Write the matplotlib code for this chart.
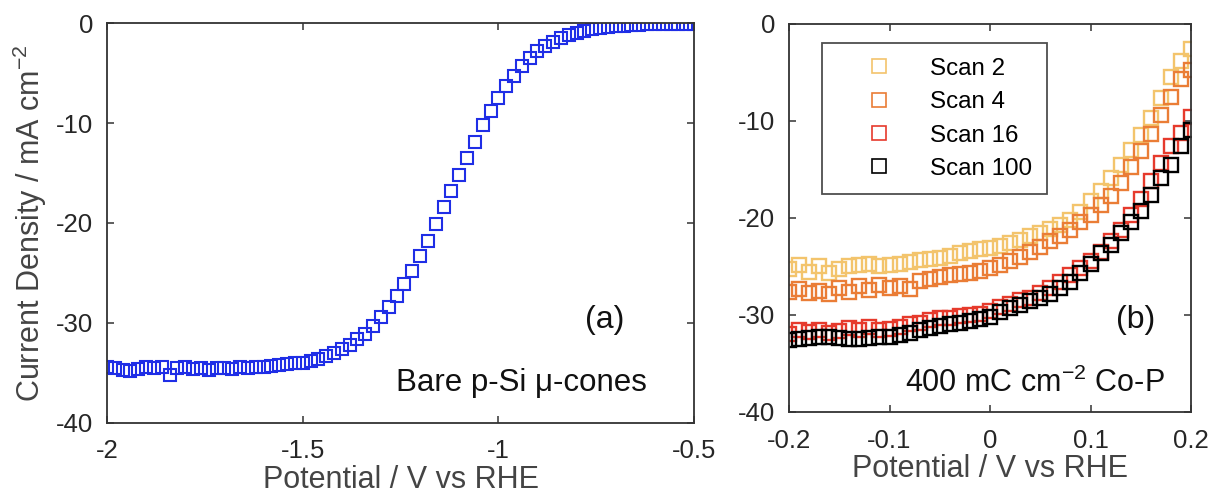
import matplotlib
matplotlib.use("Agg")
import matplotlib.pyplot as plt
from matplotlib.ticker import FormatStrFormatter

plt.rcParams['font.family'] = ['Liberation Sans', 'DejaVu Sans']
plt.rcParams['mathtext.default'] = 'regular'

# ---- panel (a): bare p-Si micro-cones ----
pot_a = [-2.00, -1.98, -1.96, -1.94, -1.92, -1.90, -1.88, -1.86, -1.84, -1.82,
         -1.80, -1.78, -1.76, -1.74, -1.72, -1.70, -1.68, -1.66, -1.64, -1.62,
         -1.60, -1.58, -1.56, -1.54, -1.52, -1.50, -1.48, -1.46, -1.44, -1.42,
         -1.40, -1.38, -1.36, -1.34, -1.32, -1.30, -1.28, -1.26, -1.24, -1.22,
         -1.20, -1.18, -1.16, -1.14, -1.12, -1.10, -1.08, -1.06, -1.04, -1.02,
         -1.00, -0.98, -0.96, -0.94, -0.92, -0.90, -0.88, -0.86, -0.84, -0.82,
         -0.80, -0.78, -0.76, -0.74, -0.72, -0.70, -0.68, -0.66, -0.64, -0.62,
         -0.60, -0.58, -0.56, -0.54, -0.52, -0.50]
cur_a = [-34.4, -34.5, -34.7, -34.8, -34.6, -34.4, -34.5, -34.4, -35.2, -34.5,
         -34.4, -34.6, -34.5, -34.7, -34.5, -34.5, -34.6, -34.4, -34.5, -34.4,
         -34.4, -34.3, -34.2, -34.1, -34.0, -34.0, -33.8, -33.6, -33.3, -33.0,
         -32.6, -32.2, -31.6, -31.1, -30.3, -29.4, -28.4, -27.3, -26.1, -24.8,
         -23.3, -21.8, -20.1, -18.4, -16.8, -15.2, -13.5, -11.9, -10.2, -8.8,
         -7.5, -6.3, -5.3, -4.3, -3.5, -2.8, -2.3, -1.9, -1.5, -1.2,
         -1.0, -0.8, -0.6, -0.5, -0.4, -0.3, -0.25, -0.2, -0.15, -0.1,
         -0.1, -0.1, -0.1, -0.1, -0.1, -0.1]

# ---- panel (b): 400 mC cm-2 Co-P, repeated scans ----
pot_b = [-0.20, -0.19, -0.18, -0.17, -0.16, -0.15, -0.14, -0.13, -0.12, -0.11,
         -0.10, -0.09, -0.08, -0.07, -0.06, -0.05, -0.04, -0.03, -0.02, -0.01,
         0.00, 0.01, 0.02, 0.03, 0.04, 0.05, 0.06, 0.07, 0.08, 0.09,
         0.10, 0.11, 0.12, 0.13, 0.14, 0.15, 0.16, 0.17, 0.18, 0.19, 0.20]
scan2 = [-25.3, -24.8, -25.6, -25.0, -25.7, -25.3, -25.0, -24.9, -24.7, -25.0,
         -24.9, -24.7, -24.5, -24.3, -24.2, -24.1, -23.9, -23.6, -23.4, -23.2,
         -23.1, -22.9, -22.6, -22.3, -21.9, -21.6, -21.1, -20.7, -20.2, -19.4,
         -18.3, -17.2, -15.9, -14.5, -13.0, -11.5, -9.7, -7.6, -5.5, -3.8, -2.6]
scan4 = [-27.6, -27.3, -27.7, -27.5, -27.8, -27.2, -27.6, -27.0, -27.4, -26.9,
         -27.2, -27.0, -27.3, -26.5, -26.3, -26.1, -25.9, -25.8, -25.7, -25.5,
         -25.2, -24.8, -24.4, -24.0, -23.5, -23.0, -22.4, -21.9, -21.2, -20.4,
         -19.7, -18.7, -17.7, -16.4, -14.8, -13.1, -11.3, -9.4, -7.5, -5.7, -4.7]
scan16 = [-32.0, -31.6, -31.8, -31.5, -31.9, -31.7, -31.3, -31.6, -31.2, -31.5,
          -31.4, -31.2, -30.9, -30.8, -30.5, -30.3, -30.3, -30.1, -30.0, -29.9,
          -29.6, -29.2, -28.9, -28.5, -28.2, -27.7, -27.2, -26.6, -25.9, -25.2,
          -24.4, -23.5, -22.4, -21.2, -19.7, -18.0, -16.2, -14.3, -12.6, -11.2, -9.6]
scan100 = [-32.6, -32.5, -32.4, -32.3, -32.3, -32.4, -32.5, -32.5, -32.4, -32.3,
           -32.3, -32.1, -31.9, -31.6, -31.3, -31.1, -30.9, -30.8, -30.6, -30.4,
           -30.2, -29.7, -29.3, -29.0, -28.6, -28.3, -27.8, -27.2, -26.6, -25.7,
           -24.7, -23.6, -22.8, -21.6, -20.4, -19.3, -17.6, -15.9, -14.5, -12.6, -10.9]

scan_labels = ['Scan 2', 'Scan 4', 'Scan 16', 'Scan 100']
scan_colors = ['#f3c46c', '#ea7d36', '#e63a2c', '#000000']

ticks_a = [-2, -1.5, -1, -0.5]
ticks_b = [-0.2, -0.1, 0, 0.1, 0.2]
ticks_y = [-40, -30, -20, -10, 0]

fig = plt.figure(figsize=(12.12, 4.95), dpi=100)
ax1 = fig.add_axes([0.0883, 0.146, 0.4843, 0.807])
ax2 = fig.add_axes([0.651, 0.1677, 0.3317, 0.784])

ax1.plot(pot_a, cur_a, linestyle='none', marker='s', markersize=9,
         markerfacecolor='none', markeredgecolor='#1f2ee6', markeredgewidth=1.5)

for vals, lab, col in zip([scan2, scan4, scan16, scan100], scan_labels, scan_colors):
    ax2.plot(pot_b, vals, linestyle='none', marker='s', markersize=9.5,
             markerfacecolor='none', markeredgecolor=col, markeredgewidth=1.7,
             label=lab)

ax1.set_xlim(-2, -0.5)
ax2.set_xlim(-0.2, 0.2)
for ax in (ax1, ax2):
    ax.set_ylim(-40, 0)
    ax.set_yticks(ticks_y)
    ax.yaxis.set_major_formatter(FormatStrFormatter('%g'))
    ax.xaxis.set_major_formatter(FormatStrFormatter('%g'))
    ax.tick_params(direction='in', top=True, right=True, length=5, width=1.1,
                   labelsize=18.5, labelcolor='#262626', color='#333333')
    ax.tick_params(axis='x', pad=12)
    ax.tick_params(axis='y', pad=10)
    for sp in ax.spines.values():
        sp.set_linewidth(1.3)
        sp.set_color('#333333')
    ax.set_xlabel('Potential / V vs RHE', fontsize=22, color='#444444', labelpad=1)
ax1.set_xticks(ticks_a)
ax2.set_xticks(ticks_b)

ax1.set_ylabel('Current Density / mA cm$^{-2}$', fontsize=22, color='#444444',
               labelpad=5)

ax1.text(0.848, 0.257, '(a)', transform=ax1.transAxes, fontsize=23,
         ha='center', va='center', color='#111111')
ax1.text(0.706, 0.099, 'Bare p-Si μ-cones', transform=ax1.transAxes, fontsize=22.5,
         ha='center', va='center', color='#111111')
ax2.text(0.861, 0.237, '(b)', transform=ax2.transAxes, fontsize=23,
         ha='center', va='center', color='#111111')
ax2.text(0.612, 0.075, '400 mC cm$^{-2}$ Co-P', transform=ax2.transAxes, fontsize=22,
         ha='center', va='center', color='#111111')

leg = ax2.legend(loc='upper left', bbox_to_anchor=(0.081, 0.950), fontsize=17.4,
                 frameon=True, fancybox=False, borderpad=0.6, handlelength=3.55,
                 handletextpad=0.35, labelspacing=0.47, borderaxespad=0)
leg.get_frame().set_edgecolor('#222222')
leg.get_frame().set_linewidth(1.3)
for h in leg.legend_handles:
    h.set_markeredgewidth(1.2)

fig.savefig('out.png', dpi=100)
